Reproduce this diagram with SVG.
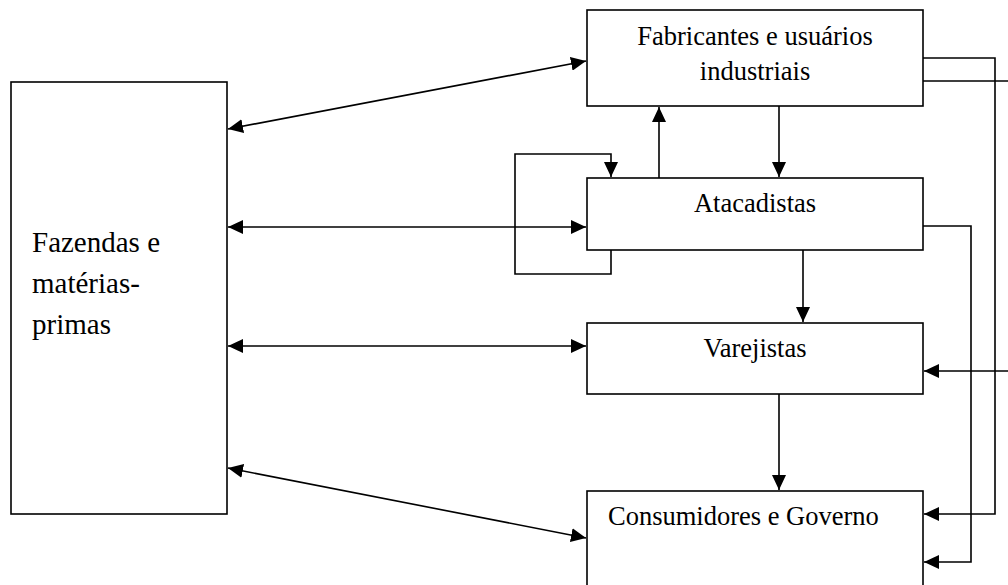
<svg xmlns="http://www.w3.org/2000/svg" width="1008" height="585" viewBox="0 0 1008 585">
<style>
.box{fill:#fff;stroke:#000;stroke-width:1.6}
.c{fill:none;stroke:#000;stroke-width:1.6}
text{font-family:"Liberation Serif","Times New Roman",serif;font-size:26.5px;fill:#000}
.big{font-size:29px}
</style>
<defs>
<marker id="ah" markerUnits="userSpaceOnUse" markerWidth="15" markerHeight="14" viewBox="0 0 15 14" refX="15" refY="7" orient="auto-start-reverse">
<path d="M0,0 L15,7 L0,14 z" fill="#000"/>
</marker>
</defs>
<rect width="1008" height="585" fill="#fff"/>
<g id="fazendas">
<rect class="box" x="11" y="82" width="216" height="432"/>
<text class="big" x="32" y="252">Fazendas e</text>
<text class="big" x="32" y="293">matérias-</text>
<text class="big" x="32" y="334">primas</text>
</g>
<g id="fabricantes">
<rect class="box" x="587" y="10" width="336" height="96"/>
<text x="755" y="45" text-anchor="middle">Fabricantes e usuários</text>
<text x="755" y="80" text-anchor="middle">industriais</text>
</g>
<g id="atacadistas">
<rect class="box" x="587" y="178" width="336" height="72"/>
<text x="755" y="212" text-anchor="middle">Atacadistas</text>
</g>
<g id="varejistas">
<rect class="box" x="587" y="323" width="336" height="71"/>
<text x="755" y="357" text-anchor="middle">Varejistas</text>
</g>
<g id="consumidores">
<rect class="box" x="587" y="491" width="336" height="110"/>
<text x="608" y="525">Consumidores e Governo</text>
</g>
<g id="connectors">
<line class="c" x1="228" y1="129" x2="586" y2="61" marker-start="url(#ah)" marker-end="url(#ah)"/>
<line class="c" x1="228" y1="227" x2="586" y2="227" marker-start="url(#ah)" marker-end="url(#ah)"/>
<line class="c" x1="228" y1="346" x2="586" y2="346" marker-start="url(#ah)" marker-end="url(#ah)"/>
<line class="c" x1="228" y1="468" x2="586" y2="538" marker-start="url(#ah)" marker-end="url(#ah)"/>
<line class="c" x1="659" y1="178" x2="659" y2="107" marker-end="url(#ah)"/>
<line class="c" x1="779" y1="106" x2="779" y2="177" marker-end="url(#ah)"/>
<polyline class="c" points="611,250 611,274 515,274 515,154 611,154 611,177" marker-end="url(#ah)"/>
<line class="c" x1="803" y1="250" x2="803" y2="322" marker-end="url(#ah)"/>
<line class="c" x1="779" y1="394" x2="779" y2="490" marker-end="url(#ah)"/>
<polyline class="c" points="923,58 995,58 995,514 924,514" marker-end="url(#ah)"/>
<polyline class="c" points="923,81 1012,81 1012,371 924,371" marker-end="url(#ah)"/>
<polyline class="c" points="923,226 971,226 971,562 924,562" marker-end="url(#ah)"/>
</g>
</svg>
